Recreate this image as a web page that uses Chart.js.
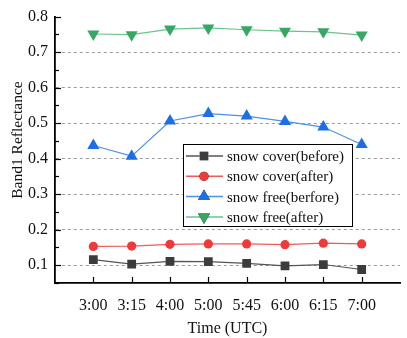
<!DOCTYPE html>
<html>
<head>
<meta charset="utf-8">
<script src="https://cdn.jsdelivr.net/npm/chart.js@4"></script>
<style>
  html, body { margin: 0; padding: 0; background: #fff; }
  #wrap { width: 407px; height: 338px; }
</style>
</head>
<body>
<div id="wrap"><canvas id="myChart" width="407" height="338"></canvas></div>
<script>
var times = ['3:00', '3:15', '4:00', '5:00', '5:45', '6:00', '6:15', '7:00'];
var coverBefore = [0.116, 0.103, 0.111, 0.110, 0.105, 0.098, 0.102, 0.088];
var coverAfter = [0.153, 0.154, 0.159, 0.160, 0.160, 0.158, 0.162, 0.160];
var freeBefore = [0.437, 0.407, 0.506, 0.527, 0.520, 0.505, 0.489, 0.440];
var freeAfter = [0.751, 0.749, 0.765, 0.768, 0.763, 0.759, 0.757, 0.748];
var yTicks = [0.1, 0.2, 0.3, 0.4, 0.5, 0.6, 0.7, 0.8];

var serif = '"Liberation Serif", "Times New Roman", serif';

function pts(arr) {
    return arr.map(function (v, i) { return { x: i + 1, y: v }; });
}

// ticks pointing inwards, y title, legend box inside the plot
var framePlugin = {
    id: 'frame',
    afterDatasetsDraw: function (chart) {
        var c = chart.ctx;
        var x = chart.scales.x, y = chart.scales.y;
        var a = chart.chartArea;
        c.save();
        c.strokeStyle = '#000';
        c.lineWidth = 1.2;
        for (var v = 0.05; v <= 0.801; v += 0.05) {
            var py = Math.round(y.getPixelForValue(v)) + 0.5;
            var major = Math.abs(v * 10 - Math.round(v * 10)) < 0.01;
            c.beginPath();
            c.moveTo(a.left, py);
            c.lineTo(a.left + (major ? 6 : 4), py);
            c.stroke();
        }
        for (var i = 1; i <= times.length; i++) {
            var px = Math.round(x.getPixelForValue(i)) + 0.5;
            c.beginPath();
            c.moveTo(px, a.bottom);
            c.lineTo(px, a.bottom - 6);
            c.stroke();
        }

        // y title
        c.save();
        c.translate(18, 140);
        c.rotate(-Math.PI / 2);
        c.font = '15.5px ' + serif;
        c.fillStyle = '#111';
        c.textAlign = 'center';
        c.textBaseline = 'middle';
        c.fillText('Band1 Reflectance', 0, 0);
        c.restore();

        // legend
        var lx = 183, ly = 144, lw = 169, lh = 82;
        c.fillStyle = '#fff';
        c.fillRect(lx, ly, lw, lh);
        c.strokeStyle = '#000';
        c.lineWidth = 1;
        c.strokeRect(lx + 0.5, ly + 0.5, lw, lh);
        c.font = '15px ' + serif;
        c.textBaseline = 'middle';
        chart.data.datasets.forEach(function (ds, k) {
            var ry = ly + 12 + k * 20.3;
            c.strokeStyle = ds.borderColor;
            c.lineWidth = 1.5;
            c.beginPath();
            c.moveTo(lx + 3, ry);
            c.lineTo(lx + 40, ry);
            c.stroke();
            Chart.helpers.drawPoint(c, {
                pointStyle: ds.pointStyle,
                radius: ds.pointRadius,
                rotation: ds.rotation || 0,
                borderWidth: 0
            }, lx + 21, ry);
            c.fillStyle = ds.pointBackgroundColor;
            c.fill();
            c.fillStyle = '#111';
            c.fillText(ds.label, lx + 44, ry + 1);
        });
        c.restore();
    }
};

var ctx = document.getElementById('myChart').getContext('2d');
var myChart = new Chart(ctx, {
    type: 'line',
    data: {
        datasets: [{
            label: 'snow cover(before)',
            data: pts(coverBefore),
            borderColor: '#555555',
            pointBackgroundColor: '#3c3c3c',
            pointBorderColor: '#3c3c3c',
            pointStyle: 'rect',
            pointRadius: 6.2
        }, {
            label: 'snow cover(after)',
            data: pts(coverAfter),
            borderColor: '#f05a5a',
            pointBackgroundColor: '#f03a3a',
            pointBorderColor: '#f03a3a',
            pointStyle: 'circle',
            pointRadius: 4.6
        }, {
            label: 'snow free(berfore)',
            data: pts(freeBefore),
            borderColor: '#4d8fea',
            pointBackgroundColor: '#1c6fe4',
            pointBorderColor: '#1c6fe4',
            pointStyle: 'triangle',
            pointRadius: 7
        }, {
            label: 'snow free(after)',
            data: pts(freeAfter),
            borderColor: '#6cc48c',
            pointBackgroundColor: '#36a862',
            pointBorderColor: '#36a862',
            pointStyle: 'triangle',
            rotation: 180,
            pointRadius: 7
        }]
    },
    options: {
        responsive: false,
        animation: false,
        datasets: { line: { borderWidth: 1.2, pointBorderWidth: 0, tension: 0 } },
        layout: { padding: { top: 8, right: 0, left: 0, bottom: 0 } },
        plugins: { legend: { display: false }, tooltip: { enabled: false } },
        scales: {
            x: {
                type: 'linear',
                min: 0,
                max: 9,
                afterFit: function (s) { s.height = 55; },
                grid: { display: false },
                border: { display: true, color: '#000', width: 1.8 },
                ticks: {
                    stepSize: 1,
                    autoSkip: false,
                    maxRotation: 0,
                    padding: 5,
                    color: '#111',
                    font: { family: serif, size: 16 },
                    callback: function (v) { return times[v - 1] || ''; }
                },
                title: {
                    display: true,
                    text: 'Time (UTC)',
                    color: '#111',
                    font: { family: serif, size: 16 },
                    padding: { top: 7, bottom: 0 }
                }
            },
            y: {
                min: 0.05,
                max: 0.8,
                afterFit: function (s) { s.width = 55; },
                afterBuildTicks: function (s) {
                    s.ticks = yTicks.map(function (v) { return { value: v }; });
                },
                grid: {
                    drawTicks: false,
                    color: function (c) {
                        return c.tick && c.tick.value < 0.75 ? '#9a9a9a' : 'rgba(0,0,0,0)';
                    },
                    lineWidth: 1
                },
                border: { display: true, color: '#000', width: 1.8, dash: [3, 3] },
                ticks: {
                    padding: 7,
                    color: '#111',
                    font: { family: serif, size: 16 },
                    callback: function (v) { return v.toFixed(1); }
                },
                title: { display: false }
            }
        }
    },
    plugins: [framePlugin]
});
</script>
</body>
</html>
